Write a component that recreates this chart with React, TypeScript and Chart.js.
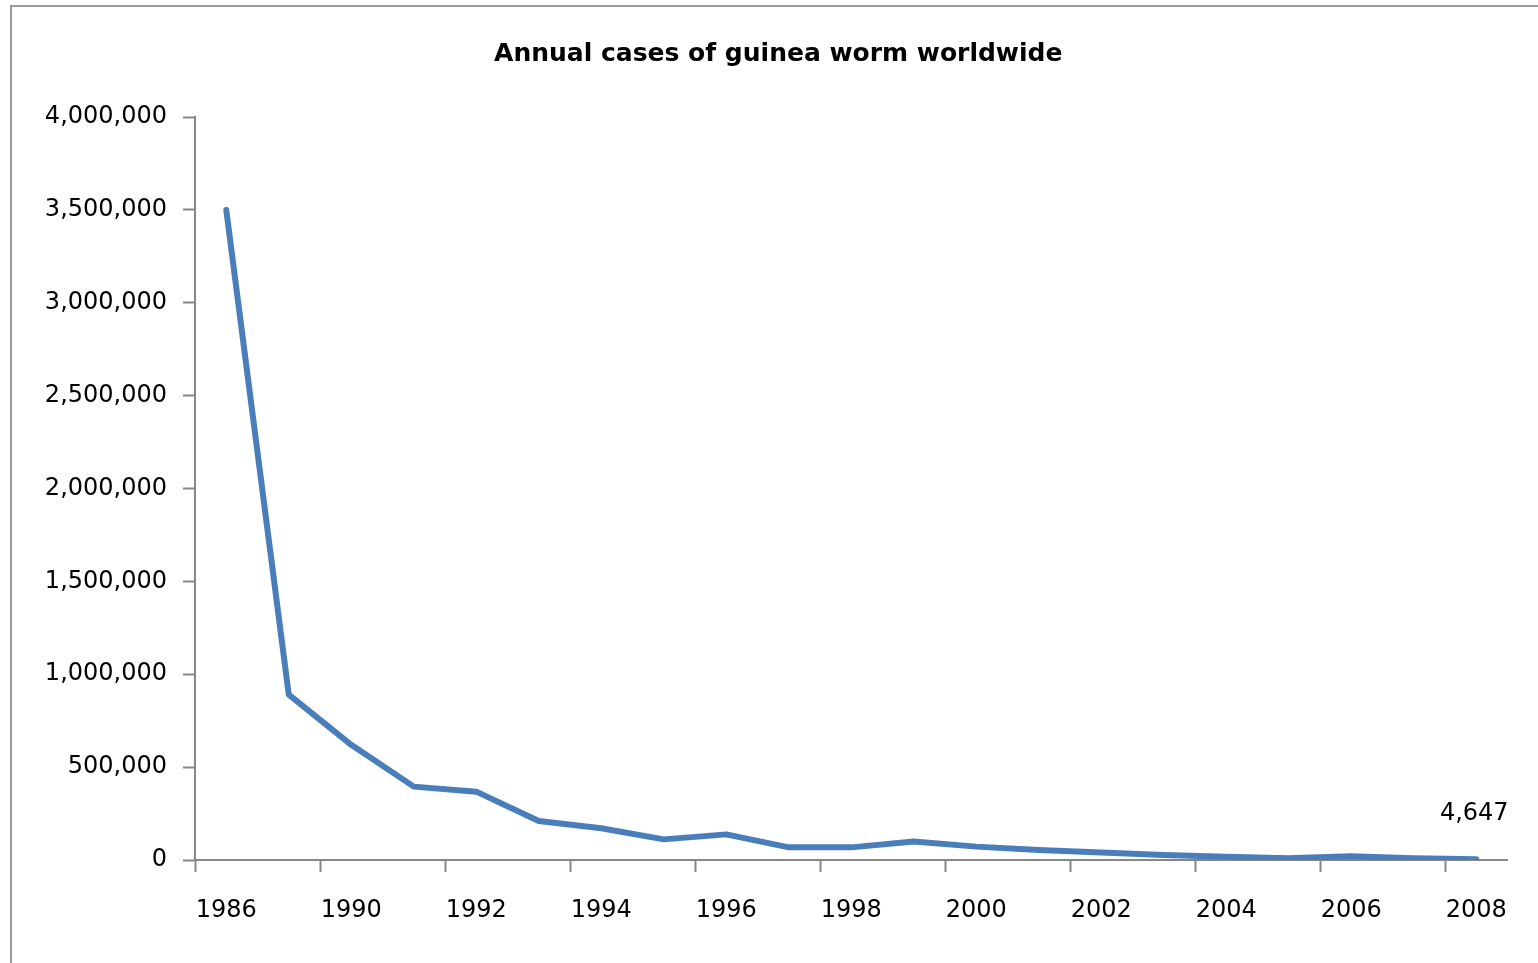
import React, { useEffect, useRef } from "react";
import { Chart, registerables } from "chart.js";

Chart.register(...registerables);

const years: string[] = [
  "1986", "1989", "1990", "1991", "1992", "1993", "1994", "1995", "1996", "1997",
  "1998", "1999", "2000", "2001", "2002", "2003", "2004", "2005", "2006", "2007", "2008",
];

const cases: number[] = [
  3500000, 890000, 620000, 395000, 368000, 210000, 171000, 111000, 138000, 68000,
  68000, 99000, 72000, 54000, 41000, 27000, 18000, 10000, 20000, 10000, 4647,
];

const titleText = "Annual cases of guinea worm worldwide";
const yMin = 0;
const yMax = 4000000;
const yStep = 500000;

const AXIS = "#878787";
const LINE = "#4A7EBB";
const FONT = "'DejaVu Sans', 'Liberation Sans', sans-serif";

const lastLabelPlugin = {
  id: "lastLabel",
  afterDatasetsDraw(chart: any) {
    const meta = chart.getDatasetMeta(0);
    const i = cases.length - 1;
    const pt = meta.data[i];
    if (!pt) return;
    const ctx = chart.ctx;
    ctx.save();
    ctx.font = `24px ${FONT}`;
    ctx.fillStyle = "#000";
    ctx.textAlign = "center";
    ctx.textBaseline = "middle";
    ctx.fillText(cases[i].toLocaleString("en-US"), pt.x - 2, pt.y - 45);
    ctx.restore();
  },
};

export default function App() {
  const ref = useRef<HTMLCanvasElement | null>(null);

  useEffect(() => {
    if (!ref.current) return;
    const chart = new Chart(ref.current, {
      type: "line",
      data: {
        labels: years,
        datasets: [
          {
            data: cases,
            borderColor: LINE,
            backgroundColor: LINE,
            borderWidth: 6,
            pointRadius: 0,
            pointHoverRadius: 0,
            tension: 0,
            borderJoinStyle: "round",
            borderCapStyle: "round",
            fill: false,
          },
        ],
      },
      options: {
        responsive: false,
        animation: false,
        devicePixelRatio: 1,
        layout: { padding: { left: 40, right: 21.5, top: 0, bottom: 0 } },
        plugins: {
          legend: { display: false },
          tooltip: { enabled: false },
          title: {
            display: true,
            text: titleText,
            color: "#000",
            font: { family: FONT, size: 25, weight: "bold", lineHeight: 1.2 },
            padding: { top: 39, bottom: 48 },
          },
        },
        scales: {
          x: {
            type: "category",
            offset: true,
            afterFit: (scale: any) => {
              scale.height = 103;
            },
            border: { display: true, color: AXIS, width: 2 },
            grid: {
              offset: true,
              drawOnChartArea: false,
              drawTicks: true,
              tickLength: 12,
              tickWidth: 2,
              tickColor: (ctx: any) => (ctx.index % 2 === 0 ? AXIS : "rgba(0,0,0,0)"),
            },
            ticks: {
              autoSkip: false,
              maxRotation: 0,
              minRotation: 0,
              padding: 24,
              color: "#000",
              font: { family: FONT, size: 24, lineHeight: 1.2 },
              callback: function (this: any, value: any, index: number) {
                return index % 2 === 0 ? this.getLabelForValue(value) : "";
              },
            },
          },
          y: {
            min: yMin,
            max: yMax,
            afterFit: (scale: any) => {
              scale.width = 155;
            },
            border: { display: true, color: AXIS, width: 2 },
            grid: {
              drawOnChartArea: false,
              drawTicks: true,
              tickLength: 12,
              tickWidth: 2,
              tickColor: AXIS,
            },
            ticks: {
              stepSize: yStep,
              padding: 16,
              color: "#000",
              font: { family: FONT, size: 24, lineHeight: 1.2 },
              callback: (v: any) => Number(v).toLocaleString("en-US"),
            },
          },
          yPad: {
            position: "right",
            display: true,
            afterFit: (scale: any) => {
              scale.width = 9;
            },
            border: { display: false },
            grid: { display: false, drawTicks: false },
            ticks: { display: false },
          },
        },
      },
      plugins: [lastLabelPlugin],
    } as any);
    return () => chart.destroy();
  }, []);

  return (
    <div
      style={{
        position: "fixed",
        left: 0,
        top: 0,
        width: 1538,
        height: 963,
        overflow: "hidden",
        background: "#fff",
      }}
    >
      <div
        style={{
          position: "absolute",
          left: 10,
          top: 5,
          width: 1600,
          height: 1000,
          borderLeft: "2px solid #9a9a9a",
          borderTop: "2px solid #9a9a9a",
        }}
      />
      <canvas
        ref={ref}
        width={1538}
        height={963}
        style={{ position: "absolute", left: 0, top: 0, width: 1538, height: 963 }}
      />
    </div>
  );
}
